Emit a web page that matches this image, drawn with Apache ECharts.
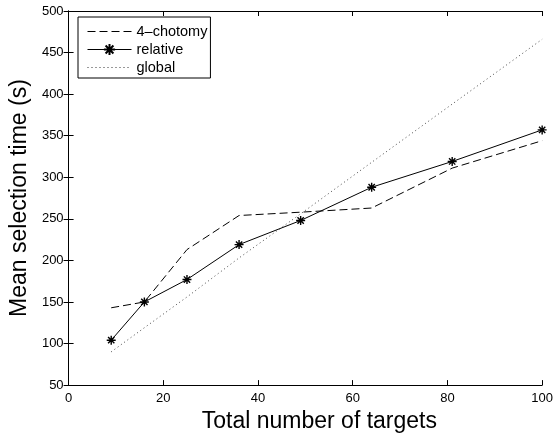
<!DOCTYPE html>
<html><head><meta charset="utf-8">
<script src="https://cdn.jsdelivr.net/npm/echarts@6/dist/echarts.min.js"></script>
<style>html,body{margin:0;padding:0;background:#fff}#c{width:556px;height:438px}</style>
</head><body><div id="c"></div>
<script>
const xValues = [9, 16, 25, 36, 49, 64, 81, 100];
const chotomy = [143, 150, 213, 254, 258, 263, 311, 344];
const relative = [104, 150, 177, 219, 248, 288, 319, 357];
const globalS = [90, 119, 156, 203, 256, 318, 388, 466];
const seriesNames = ['4\u2013chotomy', 'relative', 'global'];
const xTitle = 'Total number of targets';
const yTitle = 'Mean selection time (s)';

const pairs = arr => xValues.map((x, i) => [x, arr[i]]);
const FONT = 'Liberation Sans, Arial, Helvetica, sans-serif';
const star = 'path://M5 0 L5 10 M0 5 L10 5 M1.5 1.5 L8.5 8.5 M1.5 8.5 L8.5 1.5';

const chart = echarts.init(document.getElementById('c'), null, {renderer: 'canvas'});
const axisCommon = {
  axisLine: {show: true, lineStyle: {color: '#000', width: 1}},
  axisTick: {show: true, inside: true, length: 5, lineStyle: {color: '#000'}},
  splitLine: {show: false}
};
chart.setOption({
  animation: false,
  backgroundColor: '#fff',
  textStyle: {fontFamily: FONT},
  grid: {left: 68, right: 11.5, top: 11, bottom: 52.3, containLabel: false},
  xAxis: [
    Object.assign({type: 'value', min: 0, max: 100, interval: 20, position: 'bottom',
      axisLabel: {color: '#000', fontSize: 13, fontFamily: FONT, margin: 7},
      name: xTitle, nameLocation: 'middle', nameGap: 21,
      nameTextStyle: {color: '#000', fontSize: 23, fontFamily: FONT, padding: [0, 0, 0, 28]}}, axisCommon),
    Object.assign({type: 'value', min: 0, max: 100, interval: 20, position: 'top',
      axisLabel: {show: false}}, axisCommon)
  ],
  yAxis: [
    Object.assign({type: 'value', min: 50, max: 500, interval: 50, position: 'left',
      axisLabel: {color: '#000', fontSize: 13, fontFamily: FONT, margin: 5},
      name: yTitle, nameLocation: 'middle', nameGap: 31, nameRotate: 90,
      nameTextStyle: {color: '#000', fontSize: 23, fontFamily: FONT, padding: [0, 0, 2, 0]}}, axisCommon),
    Object.assign({type: 'value', min: 50, max: 500, interval: 50, position: 'right',
      axisLabel: {show: false}}, axisCommon)
  ],
  legend: {
    orient: 'vertical', left: 78, top: 17,
    data: [
      {name: seriesNames[0], itemStyle: {opacity: 0}},
      {name: seriesNames[1]},
      {name: seriesNames[2], itemStyle: {opacity: 0}}
    ],
    backgroundColor: '#fff', borderColor: '#000', borderWidth: 1,
    padding: [7, 3, 3, 9], itemGap: 3, itemWidth: 44, itemHeight: 14,
    lineStyle: {width: 1},
    textStyle: {color: '#000', fontSize: 14.5, fontFamily: FONT}
  },
  series: [
    {name: seriesNames[0], type: 'line', data: pairs(chotomy), symbol: 'none',
     color: '#000', lineStyle: {color: '#000', width: 1, type: [8, 4]}},
    {name: seriesNames[1], type: 'line', data: pairs(relative), symbol: star, symbolSize: 9,
     showAllSymbol: true, color: '#000', lineStyle: {color: '#000', width: 1},
     itemStyle: {color: '#000', borderColor: '#000', borderWidth: 1.4}},
    {name: seriesNames[2], type: 'line', data: pairs(globalS), symbol: 'none',
     color: '#000', lineStyle: {color: '#333', width: 0.9, type: [1, 3]}}
  ]
});
</script></body></html>
